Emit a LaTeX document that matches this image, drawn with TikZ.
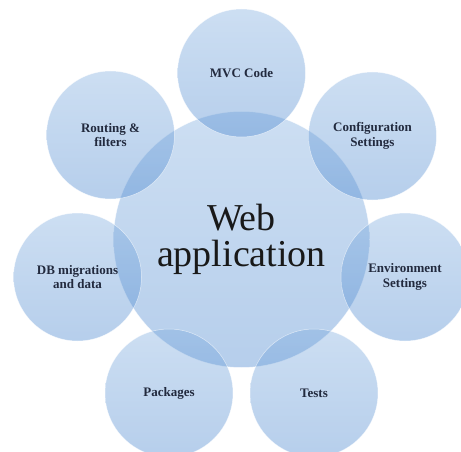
\documentclass[tikz,border=0pt]{standalone}
\usepackage{fontspec}
\setmainfont{Liberation Serif}
\usepackage{tikz}
\usetikzlibrary{shapes,positioning}

\definecolor{bubbletop}{HTML}{7AA9DD}
\definecolor{bubblebot}{HTML}{3F7FCC}
\definecolor{labelink}{HTML}{222A3E}

\tikzset{
  bubble/.style={circle, minimum size=128pt, inner sep=0pt, align=center,
    top color=bubbletop, bottom color=bubblebot, fill opacity=0.38,
    draw=white, draw opacity=0.6, line width=0.5pt, text opacity=1,
    text=labelink, font=\bfseries\fontsize{13}{14.5}\selectfont},
  hub/.style={bubble, minimum size=256pt, text=black!90,
    font=\mdseries\fontsize{38}{36}\selectfont}
}

\begin{document}
\begin{tikzpicture}[x=1pt,y=-1pt]
    \useasboundingbox (0, 0) rectangle (461, 452);

    % centre
    \node[hub] (webapp) at (241.5, 239.5) {Web\\application};

    % top row
    \node[bubble] (mvc) at (241.5, 73) {MVC Code};
    \node[bubble] (routing) at (110.5, 135) {Routing \&\\filters};
    \node[bubble] (config) at (372.5, 136) {Configuration\\Settings};

    % middle row
    \node[bubble] (dbmig) at (77.5, 277) {DB migrations\\and data};
    \node[bubble] (env) at (405, 277) {Environment\\Settings};

    % bottom row
    \node[bubble] (packages) at (169, 393) {Packages};
    \node[bubble] (tests) at (314, 393) {Tests};
\end{tikzpicture}
\end{document}
